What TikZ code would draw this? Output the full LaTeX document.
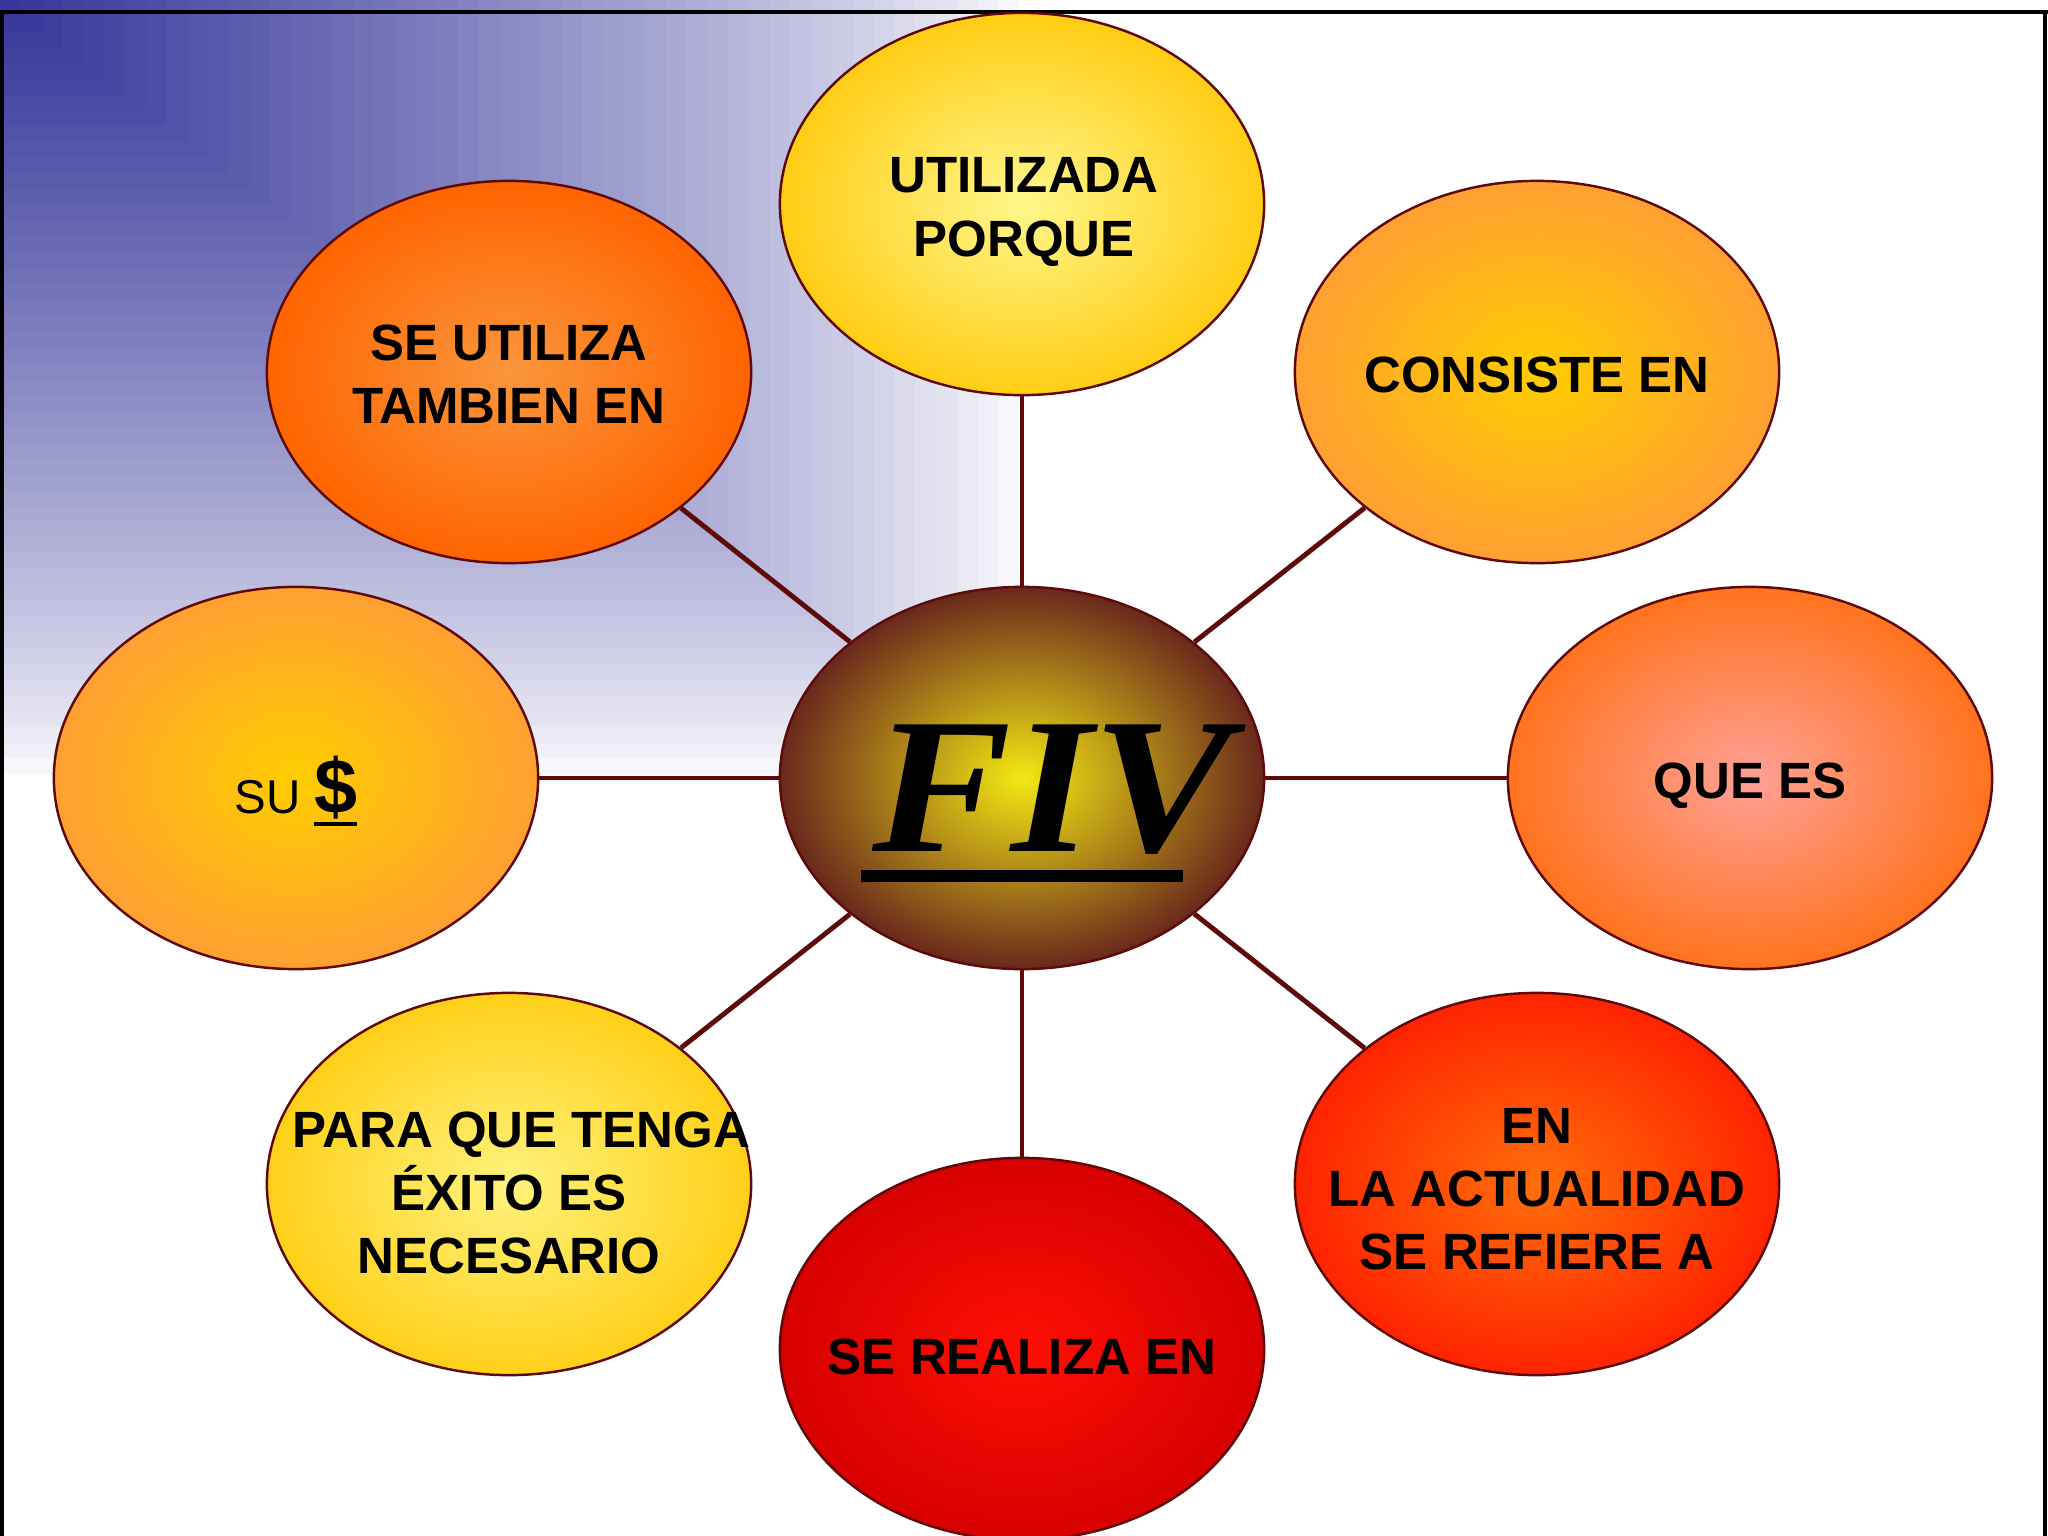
\documentclass[tikz,border=0pt]{standalone}
\usepackage{fontspec}
\setmainfont{Liberation Sans}
\newfontfamily\fivfont[FakeStretch=1.08]{Liberation Serif}
\usetikzlibrary{shapes.geometric}

\definecolor{bordo}{RGB}{95,10,10}
\definecolor{azul}{RGB}{55,55,155}
\definecolor{amarilloin}{RGB}{255,246,140}
\definecolor{amarilloout}{RGB}{255,205,20}
\definecolor{naranjain}{RGB}{250,150,60}
\definecolor{naranjaout}{RGB}{255,100,0}
\definecolor{doradoin}{RGB}{255,205,0}
\definecolor{doradoout}{RGB}{255,160,50}
\definecolor{rosain}{RGB}{255,160,150}
\definecolor{rosaout}{RGB}{255,115,30}
\definecolor{yemain}{RGB}{255,242,125}
\definecolor{yemaout}{RGB}{255,208,25}
\definecolor{rojoin}{RGB}{255,110,10}
\definecolor{rojoout}{RGB}{255,35,0}
\definecolor{granatein}{RGB}{255,15,5}
\definecolor{granateout}{RGB}{215,0,0}
\definecolor{fivin}{RGB}{245,232,20}
\definecolor{fivout}{RGB}{105,40,28}

\newcommand{\subraya}[1]{\setbox0\hbox{#1}\rlap{\rule[-3.5pt]{\wd0}{1.2pt}}\box0}

\tikzset{
  globo/.style={ellipse, draw=bordo, line width=0.7pt, minimum width=4.84cm, minimum height=3.82cm, inner sep=0pt},
  rotulo/.style={align=center, font=\fontsize{14.5}{18}\selectfont\bfseries},
  enlace/.style={draw=bordo, line width=1.4pt}
}

\begin{document}
\begin{tikzpicture}[x=0.01cm, y=-0.01cm]
\useasboundingbox (0,0) rectangle (2048,1536);
\clip (0,0) rectangle (2048,1536);

% fondo azul de la esquina
\foreach \i in {0,...,49}{
  \pgfmathsetmacro{\p}{100*(\i/49)^0.8}
  \fill[azul!\p!white] (0,0) rectangle ({1040-20.8*\i},{790-15.8*\i});
}
\draw[line width=1.2pt] (0,12)--(2048,12);
\draw[line width=0.9pt] (2,12)--(2,1536);
\draw[line width=0.9pt] (2045,12)--(2045,1536);

\node[globo, inner color=fivin, outer color=fivout] (fiv) at (1022,778) {};
\node[globo, inner color=amarilloin, outer color=amarilloout] (utilizada) at (1022,204) {};
\node[globo, inner color=naranjain, outer color=naranjaout] (tambien) at (509,372) {};
\node[globo, inner color=doradoin, outer color=doradoout] (consiste) at (1537,372) {};
\node[globo, inner color=doradoin, outer color=doradoout] (su) at (296,778) {};
\node[globo, inner color=rosain, outer color=rosaout] (quees) at (1750,778) {};
\node[globo, inner color=yemain, outer color=yemaout] (para) at (509,1184) {};
\node[globo, inner color=rojoin, outer color=rojoout] (actualidad) at (1537,1184) {};
\node[globo, inner color=granatein, outer color=granateout] (realiza) at (1022,1349) {};

\foreach \n in {utilizada,tambien,consiste,su,quees,para,actualidad,realiza}
  \draw[enlace] (fiv)--(\n);

\node[rotulo] (t-utilizada) at (1024,212) {UTILIZADA\\PORQUE};
\node[rotulo] (t-tambien) at (509,374) {SE UTILIZA\\TAMBIEN EN};
\node[rotulo] (t-consiste) at (1537,375) {CONSISTE EN};
\node[rotulo] (t-su) at (296,791) {\fontsize{13.5}{15}\selectfont\mdseries SU \fontsize{22}{24}\selectfont\bfseries\subraya{\$}};
\node[rotulo] (t-quees) at (1750,786) {QUE ES};
\node[rotulo] (t-para) at (509,1193) {\hspace{7pt}PARA QUE TENGA\\ÉXITO ES\\NECESARIO};
\node[rotulo] (t-actualidad) at (1537,1189) {EN\\LA ACTUALIDAD\\SE REFIERE A};
\node[rotulo] (t-realiza) at (1022,1357) {SE REALIZA EN};

\node[font={\fivfont\fontsize{55}{60}\selectfont\bfseries\itshape}] (t-fiv) at (1052,790) {FIV};
\fill (861,870) rectangle (1183,882);
\end{tikzpicture}
\end{document}
